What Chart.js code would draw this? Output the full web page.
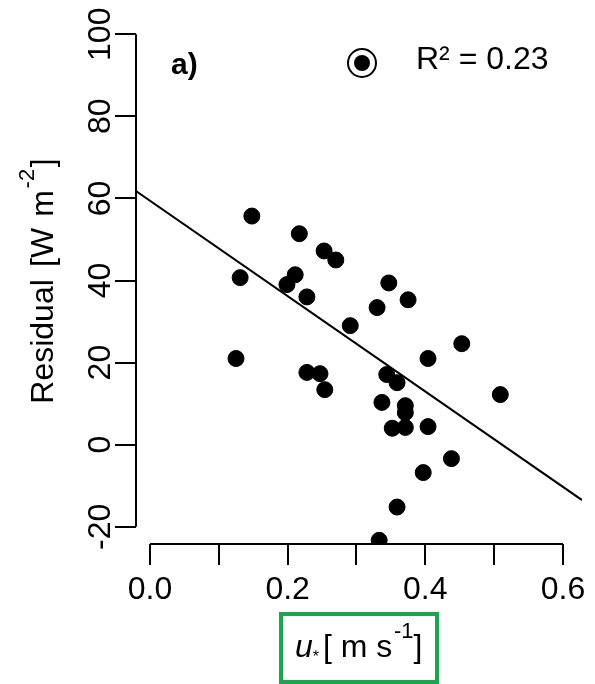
<!DOCTYPE html>
<html>
<head>
<meta charset="utf-8">
<script src="https://cdn.jsdelivr.net/npm/chart.js@4.4.1/dist/chart.umd.min.js"></script>
<style>
  body { margin: 0; background: #fff; }
  canvas { display: block; }
</style>
</head>
<body>
<canvas id="residualChart" width="595" height="684"></canvas>
<script>
// friction velocity u* [m s-1] and residual [W m-2]
const uStar = [0.148, 0.217, 0.253, 0.270, 0.211, 0.199, 0.228, 0.330, 0.291, 0.347,
  0.375, 0.131, 0.125, 0.228, 0.247, 0.254, 0.344, 0.359, 0.453, 0.404,
  0.509, 0.337, 0.371, 0.371, 0.352, 0.371, 0.404, 0.438, 0.397, 0.359, 0.333];
const residual = [55.7, 51.4, 47.2, 45.0, 41.4, 39.0, 36.0, 33.4, 29.0, 39.4,
  35.3, 40.7, 21.0, 17.6, 17.3, 13.4, 17.1, 15.1, 24.6, 21.0,
  12.2, 10.3, 9.5, 7.8, 4.0, 4.2, 4.4, -3.4, -6.8, -15.2, -23.3];

// regression line end points (edge to edge of the plot region)
const fitX = [-0.0203, 0.6277];
const fitY = [61.8, -13.5];

const xTicks = [0, 0.1, 0.2, 0.3, 0.4, 0.5, 0.6];
const xTickLabels = ['0.0', '', '0.2', '', '0.4', '', '0.6'];
const yTicks = [-20, 0, 20, 40, 60, 80, 100];
const yTickLabels = ['-20', '0', '20', '40', '60', '80', '100'];

const FONT = '"Liberation Sans", Arial, sans-serif';

// draws text pieces one after another, [text, size, raise, italic]
function drawPieces(ctx, pieces, measureOnly) {
  let pos = 0;
  pieces.forEach(p => {
    ctx.font = (p[3] ? 'italic ' : '') + p[1] + 'px ' + FONT;
    if (!measureOnly) ctx.fillText(p[0], pos, -p[2]);
    pos += ctx.measureText(p[0]).width;
  });
  return pos;
}

const rAxes = {
  id: 'rAxes',
  afterDraw(chart) {
    const { ctx, chartArea: a, scales: { x, y } } = chart;
    ctx.save();
    ctx.strokeStyle = '#000';
    ctx.lineWidth = 2;
    ctx.beginPath();
    ctx.moveTo(a.left, y.getPixelForValue(yTicks[0]));
    ctx.lineTo(a.left, y.getPixelForValue(yTicks[yTicks.length - 1]));
    ctx.moveTo(x.getPixelForValue(xTicks[0]), a.bottom);
    ctx.lineTo(x.getPixelForValue(xTicks[xTicks.length - 1]), a.bottom);
    ctx.stroke();

    // rotated y tick labels
    ctx.fillStyle = '#000';
    ctx.font = '32px ' + FONT;
    ctx.textAlign = 'center';
    ctx.textBaseline = 'alphabetic';
    yTicks.forEach((v, i) => {
      ctx.save();
      ctx.translate(110, y.getPixelForValue(v));
      ctx.rotate(-Math.PI / 2);
      ctx.fillText(yTickLabels[i], 0, 0);
      ctx.restore();
    });

    // y title
    ctx.textAlign = 'left';
    const yPieces = [['Residual', 32, 0], [' ', 44, 0], ['[W ', 32, 0], [' ', 8, 0], ['m', 32, 0],
      [' ', 6, 0], ['-2', 22, 19], [' ', 6, 0], [']', 32, 0]];
    const yLen = drawPieces(ctx, yPieces, true);
    ctx.save();
    ctx.translate(53, 281 + yLen / 2);
    ctx.rotate(-Math.PI / 2);
    drawPieces(ctx, yPieces);
    ctx.restore();

    // x title
    ctx.save();
    ctx.translate(295, 657);
    drawPieces(ctx, [['u', 32, 0, true], ['*', 16, -5], [' ', 14, 0], ['[ m s', 32, 0],
      [' ', 6, 0], ['-1', 22, 19], [']', 32, 0]]);
    ctx.restore();

    // green frame round the x title
    ctx.strokeStyle = '#1ba54c';
    ctx.lineWidth = 4;
    ctx.strokeRect(281, 614, 156, 68);

    // panel tag and R squared
    ctx.fillStyle = '#000';
    ctx.font = 'bold 30px ' + FONT;
    ctx.fillText('a)', 171, 74);
    ctx.font = '32px ' + FONT;
    ctx.fillText('R\u00b2 = 0.23', 416, 69);

    ctx.strokeStyle = '#000';
    ctx.lineWidth = 2;
    ctx.beginPath();
    ctx.arc(362, 63, 14, 0, Math.PI * 2);
    ctx.stroke();
    ctx.beginPath();
    ctx.arc(362, 63, 8, 0, Math.PI * 2);
    ctx.fill();
    ctx.restore();
  }
};

new Chart(document.getElementById('residualChart'), {
  type: 'scatter',
  data: {
    datasets: [{
      data: uStar.map((u, i) => ({ x: u, y: residual[i] })),
      backgroundColor: '#000',
      borderColor: '#000',
      borderWidth: 1,
      pointRadius: 8
    }, {
      type: 'line',
      data: fitX.map((u, i) => ({ x: u, y: fitY[i] })),
      borderColor: '#000',
      borderWidth: 2,
      pointRadius: 0,
      fill: false
    }]
  },
  options: {
    responsive: false,
    animation: false,
    devicePixelRatio: 1,
    layout: { padding: { left: 0, right: 13, top: 17, bottom: 0 } },
    plugins: { legend: { display: false }, tooltip: { enabled: false } },
    scales: {
      x: {
        type: 'linear',
        min: -0.0203,
        max: 0.6277,
        afterBuildTicks: s => { s.ticks = xTicks.map(v => ({ value: v })); },
        afterFit: s => { s.height = 140; },
        border: { display: false },
        grid: { drawOnChartArea: false, drawTicks: true, tickLength: 21, color: '#000', lineWidth: 2 },
        ticks: {
          autoSkip: false,
          maxRotation: 0,
          padding: 6,
          color: '#000',
          font: { family: FONT, size: 32 },
          callback: (v, i) => xTickLabels[i]
        }
      },
      y: {
        min: -24.2,
        max: 104.2,
        afterBuildTicks: s => { s.ticks = yTicks.map(v => ({ value: v })); },
        afterFit: s => { s.width = 136; },
        border: { display: false },
        grid: { drawOnChartArea: false, drawTicks: true, tickLength: 21, color: '#000', lineWidth: 2 },
        ticks: { display: false }
      }
    }
  },
  plugins: [rAxes]
});
</script>
</body>
</html>
